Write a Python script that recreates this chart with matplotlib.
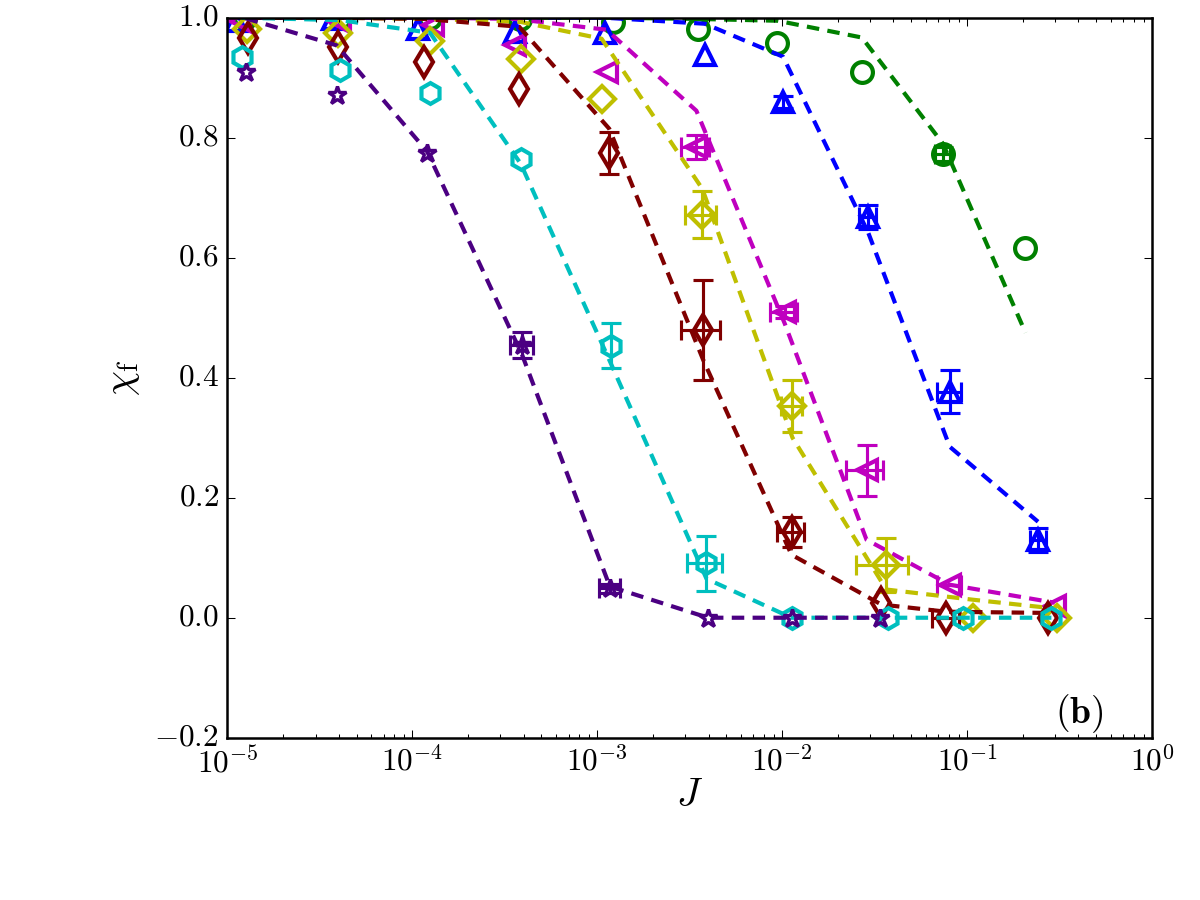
import numpy as np
import matplotlib
matplotlib.use('Agg')
import matplotlib.pyplot as plt
from matplotlib.ticker import FixedLocator, FuncFormatter

# --- data ---------------------------------------------------------------
# green circles
J_g = [1.247e-5, 4.06e-5, 1.247e-4, 3.82e-4, 1.216e-3, 3.49e-3, 9.44e-3, 2.70e-2, 7.41e-2, 0.207]
chi_g = [1.0, 1.0, 1.0, 0.998, 0.993, 0.981, 0.958, 0.909, 0.773, 0.617]
err_g = [0, 0, 0, 0, 0, 0, 0, 0, 0.012, 0]
xerr_g = [0, 0, 0, 0, 0, 0, 0, 0, 7e-3, 0]
fit_g = [1.0, 1.0, 1.0, 1.0, 1.0, 0.998, 0.995, 0.967, 0.79, 0.475]

# blue triangles
J_b = [1.114e-5, 3.74e-5, 1.077e-4, 3.59e-4, 1.10e-3, 3.82e-3, 1.012e-2, 2.92e-2, 8.06e-2, 0.242]
chi_b = [0.995, 0.998, 0.982, 0.977, 0.974, 0.938, 0.86, 0.668, 0.377, 0.1295]
err_b = [0, 0, 0, 0, 0, 0, 0.01, 0.02, 0.036, 0.02]
xerr_b = [0, 0, 0, 0, 0, 0, 0, 3e-3, 1.2e-2, 2.4e-2]
fit_b = [1.0, 1.0, 1.0, 1.0, 1.0, 0.99, 0.935, 0.642, 0.285, 0.16]

# magenta left triangles
J_m = [1.17e-5, 4.06e-5, 1.298e-4, 3.59e-4, 1.124e-3, 3.44e-3, 1.034e-2, 2.86e-2, 8.06e-2, 0.298]
chi_m = [0.995, 0.993, 0.988, 0.954, 0.91, 0.785, 0.509, 0.246, 0.0545, 0.02]
err_m = [0, 0, 0, 0, 0, 0.02, 0.01, 0.0425, 0, 0]
xerr_m = [0, 0, 0, 0, 0, 0.6e-3, 1.7e-3, 6.5e-3, 1.2e-2, 0]
fit_m = [1.0, 1.0, 1.0, 0.998, 0.98, 0.845, 0.49, 0.13, 0.055, 0.025]

# yellow diamonds
J_y = [1.273e-5, 3.98e-5, 1.247e-4, 3.855e-4, 1.057e-3, 3.70e-3, 1.138e-2, 3.66e-2, 0.1077, 0.3055]
chi_y = [0.982, 0.975, 0.962, 0.932, 0.8645, 0.672, 0.353, 0.088, 0.0, 0.0]
err_y = [0, 0, 0, 0, 0, 0.039, 0.043, 0.045, 0, 0]
xerr_y = [0, 0, 0, 0, 0, 0.7e-3, 1.5e-3, 1.15e-2, 0, 0]
fit_y = [1.0, 1.0, 0.998, 0.993, 0.965, 0.715, 0.30, 0.047, 0.03, 0.015]

# dark red thin diamonds
J_r = [1.298e-5, 3.98e-5, 1.157e-4, 3.786e-4, 1.162e-3, 3.74e-3, 1.124e-2, 3.44e-2, 7.74e-2, 0.274]
chi_r = [0.966, 0.952, 0.927, 0.881, 0.774, 0.4795, 0.143, 0.025, 0.0, 0.0]
err_r = [0, 0, 0, 0, 0.035, 0.083, 0.025, 0, 0, 0]
xerr_r = [0, 0, 0, 0, 0, 0.9e-3, 1.9e-3, 0, 1.3e-2, 0]
fit_r = [1.0, 1.0, 0.998, 0.985, 0.815, 0.43, 0.105, 0.022, 0.01, 0.008]

# cyan hexagons
J_c = [1.197e-5, 4.06e-5, 1.247e-4, 3.855e-4, 1.181e-3, 3.90e-3, 1.124e-2, 3.74e-2, 9.51e-2, 0.2857]
chi_c = [0.935, 0.913, 0.874, 0.764, 0.453, 0.0907, 0.0, 0.0, 0.0, 0.0]
err_c = [0, 0, 0, 0, 0.0375, 0.046, 0, 0, 0, 0]
xerr_c = [0, 0, 0, 0, 0, 0.85e-3, 0, 0, 0, 0]
fit_c = [1.0, 0.996, 0.975, 0.757, 0.425, 0.065, 0.0, 0.0, 0.0, 0.0]

# indigo stars
J_i = [1.257e-5, 3.90e-5, 1.205e-4, 3.93e-4, 1.171e-3, 3.98e-3, 1.124e-2, 3.37e-2]
chi_i = [0.91, 0.871, 0.775, 0.4545, 0.049, 0.0, 0.0, 0.0]
err_i = [0, 0, 0, 0.021, 0.008, 0, 0, 0]
xerr_i = [0, 0, 0, 0.55e-4, 1.5e-4, 0, 0, 0]
fit_i = [0.999, 0.954, 0.777, 0.438, 0.052, 0.0, 0.0, 0.0]

xticks = [1e-5, 1e-4, 1e-3, 1e-2, 1e-1, 1e0]
yticks = [-0.2, 0.0, 0.2, 0.4, 0.6, 0.8, 1.0]

# --- style ---------------------------------------------------------------
plt.style.use('classic')
plt.rcParams['font.family'] = 'serif'
plt.rcParams['font.serif'] = ['cmr10', 'DejaVu Serif']
plt.rcParams['mathtext.fontset'] = 'cm'
plt.rcParams['axes.unicode_minus'] = False

fig = plt.figure(figsize=(8, 6), dpi=150, facecolor='white')
ax = fig.add_subplot(111)
fig.subplots_adjust(left=0.1894, right=0.96, top=0.9803, bottom=0.1803)

series = [
    (J_g, chi_g, err_g, xerr_g, fit_g, 'g', 'o', 10, 2),
    (J_b, chi_b, err_b, xerr_b, fit_b, 'b', '^', 10, 2),
    (J_m, chi_m, err_m, xerr_m, fit_m, 'm', '<', 10, 2),
    (J_y, chi_y, err_y, xerr_y, fit_y, 'y', 'D', 9, 2),
    (J_r, chi_r, err_r, xerr_r, fit_r, '#800000', 'd', 10, 2),
    (J_c, chi_c, err_c, xerr_c, fit_c, 'c', 'h', 10, 2),
    (J_i, chi_i, err_i, xerr_i, fit_i, '#4B0082', '*', 9, 1.6),
]

eb = dict(fmt='none', elinewidth=1.5, capsize=5, capthick=1.5)
for J, chi, err, xerr, fit, col, mk, ms, mw in series:
    J, chi, err, xerr = map(np.asarray, (J, chi, err, xerr))
    ax.plot(J, fit, '--', color=col, lw=2, dashes=(6, 4))
    ax.plot(J, chi, mk, color=col, mec=col, mfc='none', ms=ms, mew=mw, ls='none')
    sel = err > 0
    if sel.any():
        ax.errorbar(J[sel], chi[sel], yerr=err[sel], ecolor=col, **eb)
    sel = xerr > 0
    if sel.any():
        ax.errorbar(J[sel], chi[sel], xerr=xerr[sel], ecolor=col, **eb)

ax.set_xscale('log')
ax.set_xlim(1e-5, 1)
ax.set_ylim(-0.2, 1.0)
ax.xaxis.set_major_locator(FixedLocator(xticks))
ax.xaxis.set_major_formatter(FuncFormatter(lambda v, p: r'$10^{%d}$' % round(np.log10(v))))
ax.yaxis.set_major_locator(FixedLocator(yticks))
ax.yaxis.set_major_formatter(FuncFormatter(lambda v, p: r'$%.1f$' % v))
ax.tick_params(labelsize=15)
for s in ax.spines.values():
    s.set_linewidth(1.2)

ax.set_xlabel(r'$J$', fontsize=19, labelpad=0)
ax.set_ylabel(r'$\chi_{\rm f}$', fontsize=19, labelpad=6)
ax.text(0.921, 0.034, r'$\mathbf{(b)}$', transform=ax.transAxes,
        fontsize=18, ha='center', va='center')

fig.savefig('out.png', dpi=150, facecolor='white')
